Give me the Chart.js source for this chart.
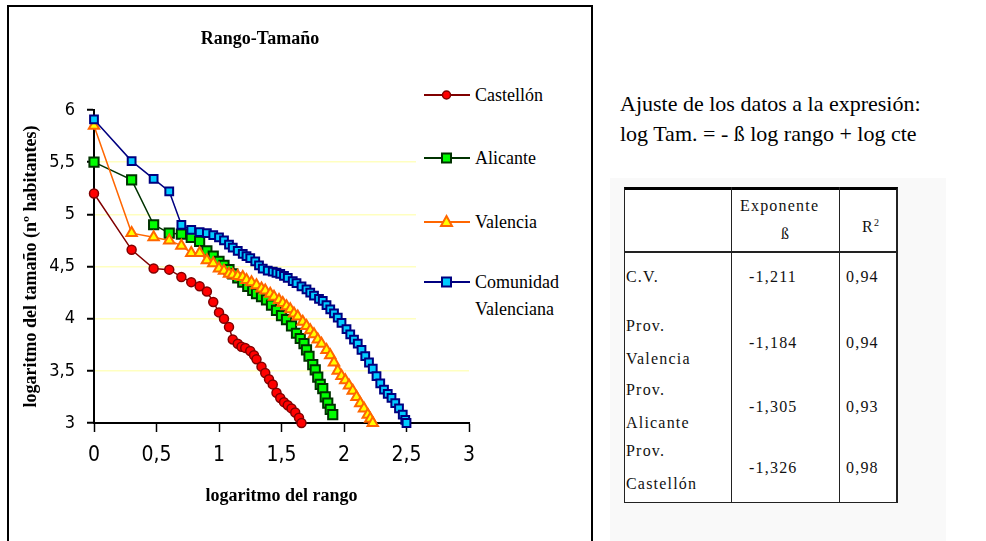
<!DOCTYPE html>
<html>
<head>
<meta charset="utf-8">
<script src="https://cdn.jsdelivr.net/npm/chart.js@4/dist/chart.umd.min.js"></script>
<style>
  body { margin: 0; background: #fff; }
  #page { position: relative; width: 986px; height: 541px; overflow: hidden; background: #fff; }
  #frame { position: absolute; left: 7px; top: 5px; width: 582px; height: 600px; border: 2px solid #000; }
  #chart { position: absolute; left: 0; top: 0; }
  #title { position: absolute; left: 160px; width: 200px; top: 28px; text-align: center;
    font: bold 18px "Liberation Serif", serif; }
  #legend { position: absolute; left: 416px; top: 78px; width: 165px; height: 245px; background: #fff; }
  .item { position: absolute; left: 8px; height: 20px; }
  .item svg { position: absolute; left: 0; top: 0; }
  .item span { position: absolute; left: 51px; top: -3px; white-space: nowrap;
    font-family: "Liberation Serif", serif; font-size: 18px; line-height: 27px; }
  #fit { position: absolute; left: 620px; top: 89px; font: 22px "Liberation Serif", serif; line-height: 30px; white-space: nowrap; }
  #shade { position: absolute; left: 610px; top: 178px; width: 336px; height: 380px; background: #f9f9f9; }
  #tbl { position: absolute; left: 624px; top: 187px; width: 274px; height: 316px; background: #fff;
    border-top: 3px solid #000; border-left: 1px solid #222; border-right: 2px solid #222; border-bottom: 1px solid #222; box-sizing: border-box; }
  .cell { position: absolute; font: 16px "Liberation Serif", serif; letter-spacing: 1.2px; color: #111; white-space: nowrap; line-height: 18px; }
  .vline { position: absolute; top: -3px; width: 1px; height: 316px; background: #222; }
  .hline { position: absolute; left: 0; width: 100%; height: 2px; background: #222; }
</style>
</head>
<body>
<div id="page">
  <div id="frame"></div>
  <canvas id="chart" width="600" height="541"></canvas>
  <div id="title">Rango-Tamaño</div>
  <div id="legend"></div>
  <div id="fit">Ajuste de los datos a la expresión:<br>log Tam. = - ß log rango + log cte</div>
  <div id="shade"></div>
  <div id="tbl"></div>
</div>
<script>
// log rango (x) and log tamaño (y)
let castellonX = [0, 0.301, 0.477, 0.602, 0.699, 0.778, 0.845, 0.903, 0.954, 1.0, 1.04, 1.08, 1.11, 1.15, 1.18, 1.21, 1.25, 1.28, 1.30, 1.34, 1.37, 1.40, 1.43, 1.46, 1.49, 1.52, 1.55, 1.58, 1.61, 1.64, 1.66]
let castellonY = [5.20, 4.66, 4.48, 4.47, 4.40, 4.35, 4.31, 4.26, 4.16, 4.06, 4.00, 3.92, 3.80, 3.76, 3.73, 3.72, 3.69, 3.65, 3.61, 3.54, 3.48, 3.42, 3.37, 3.29, 3.24, 3.20, 3.17, 3.14, 3.10, 3.05, 3.00]

let alicanteX = [0, 0.301, 0.477, 0.602, 0.699, 0.778, 0.845, 0.903, 0.954, 1.0, 1.04, 1.08, 1.11, 1.15, 1.19, 1.23, 1.27, 1.30, 1.34, 1.38, 1.42, 1.46, 1.50, 1.54, 1.58, 1.62, 1.65, 1.68, 1.70, 1.72, 1.75, 1.77, 1.79, 1.81, 1.83, 1.85, 1.87, 1.89, 1.91]
let alicanteY = [5.50, 5.33, 4.90, 4.82, 4.81, 4.78, 4.74, 4.65, 4.60, 4.55, 4.51, 4.47, 4.43, 4.39, 4.35, 4.31, 4.27, 4.24, 4.21, 4.18, 4.13, 4.08, 4.03, 3.99, 3.93, 3.86, 3.81, 3.76, 3.70, 3.64, 3.56, 3.51, 3.44, 3.37, 3.33, 3.25, 3.19, 3.13, 3.08]

let valenciaX = [0, 0.301, 0.477, 0.602, 0.699, 0.778, 0.845, 0.903, 0.954, 1.0, 1.04, 1.08, 1.11, 1.15, 1.19, 1.22, 1.26, 1.30, 1.34, 1.37, 1.41, 1.44, 1.48, 1.51, 1.54, 1.57, 1.60, 1.63, 1.67, 1.70, 1.73, 1.76, 1.79, 1.82, 1.86, 1.89, 1.92, 1.95, 1.98, 2.01, 2.04, 2.07, 2.10, 2.13, 2.16, 2.19, 2.21, 2.23]
let valenciaY = [5.85, 4.82, 4.78, 4.75, 4.70, 4.63, 4.63, 4.56, 4.53, 4.48, 4.46, 4.43, 4.42, 4.41, 4.40, 4.37, 4.35, 4.32, 4.29, 4.27, 4.24, 4.21, 4.18, 4.15, 4.12, 4.09, 4.05, 4.02, 3.97, 3.93, 3.89, 3.85, 3.80, 3.76, 3.70, 3.65, 3.58, 3.50, 3.45, 3.41, 3.36, 3.31, 3.25, 3.19, 3.14, 3.08, 3.04, 3.00]

let comunidadX = [0, 0.301, 0.477, 0.602, 0.699, 0.778, 0.845, 0.903, 0.954, 1.0, 1.04, 1.08, 1.11, 1.15, 1.19, 1.22, 1.25, 1.29, 1.32, 1.35, 1.39, 1.43, 1.46, 1.49, 1.52, 1.55, 1.59, 1.62, 1.66, 1.70, 1.73, 1.76, 1.80, 1.83, 1.86, 1.89, 1.92, 1.95, 1.98, 2.02, 2.05, 2.08, 2.11, 2.14, 2.17, 2.20, 2.23, 2.26, 2.29, 2.32, 2.35, 2.38, 2.41, 2.44, 2.47, 2.49, 2.50]
let comunidadY = [5.91, 5.51, 5.34, 5.22, 4.90, 4.85, 4.83, 4.82, 4.80, 4.78, 4.75, 4.71, 4.68, 4.65, 4.62, 4.60, 4.58, 4.55, 4.51, 4.48, 4.46, 4.45, 4.44, 4.43, 4.41, 4.39, 4.36, 4.34, 4.31, 4.28, 4.25, 4.22, 4.19, 4.17, 4.13, 4.09, 4.05, 4.01, 3.96, 3.90, 3.85, 3.80, 3.76, 3.70, 3.64, 3.58, 3.52, 3.45, 3.38, 3.32, 3.28, 3.24, 3.19, 3.14, 3.08, 3.03, 3.00]

let seriesNames = ['Castellón', 'Alicante', 'Valencia', 'Comunidad Valenciana']

// adjustment table
let tableRows = [['C.V.'], ['Prov.', 'Valencia'], ['Prov.', 'Alicante'], ['Prov.', 'Castellón']]
let exponents = ['-1,211', '-1,184', '-1,305', '-1,326']
let rSquared = ['0,94', '0,94', '0,93', '0,98']

let pts = (xs, ys) => xs.map((x, i) => ({ x: x, y: ys[i] }))
let comma = v => String(v).replace('.', ',')

const styles = [
  { line: '#800000', fill: '#ff0000', shape: 'circle', r: 4.5, bw: 1.5, order: 4 },
  { line: '#003300', fill: '#00ff00', shape: 'rect', r: 6.5, bw: 2, order: 3 },
  { line: '#ff6600', fill: '#ffff00', shape: 'triangle', r: 6, bw: 2, order: 2 },
  { line: '#000080', fill: '#00ccff', shape: 'rect', r: 5.5, bw: 2, order: 1 }
]
const allData = [pts(castellonX, castellonY), pts(alicanteX, alicanteY), pts(valenciaX, valenciaY), pts(comunidadX, comunidadY)]

const datasets = allData.map((d, i) => ({
  label: seriesNames[i],
  data: d,
  showLine: true,
  borderColor: styles[i].line,
  borderWidth: 1.5,
  pointStyle: styles[i].shape,
  pointRadius: styles[i].r,
  pointBackgroundColor: styles[i].fill,
  pointBorderColor: styles[i].shape === 'triangle' ? '#ff6600' : styles[i].line,
  pointBorderWidth: styles[i].bw,
  order: styles[i].order,
  clip: false
}))

const tickFont = { family: '"Liberation Sans Narrow", "DejaVu Sans Condensed", sans-serif', size: 18 }
const titleFont = { family: '"Liberation Serif", serif', size: 18, weight: 'bold' }

new Chart(document.getElementById('chart').getContext('2d'), {
  type: 'scatter',
  data: { datasets: datasets },
  options: {
    responsive: false,
    animation: false,
    devicePixelRatio: 1,
    layout: { padding: { top: 110, right: 131, bottom: 0, left: 0 } },
    plugins: { legend: { display: false }, tooltip: { enabled: false } },
    scales: {
      x: {
        type: 'linear', min: 0, max: 3,
        afterFit: s => { s.height = 118 },
        border: { color: '#000', width: 2 },
        grid: { drawOnChartArea: false, tickColor: '#000', tickLength: 9, tickWidth: 1.5 },
        ticks: { stepSize: 0.5, color: '#000', padding: 11, maxRotation: 0, autoSkip: false,
          font: { family: tickFont.family, size: 21 }, callback: v => comma(v) },
        title: { display: true, text: 'logaritmo del rango', color: '#000', font: titleFont, padding: { top: 0, bottom: 34 } }
      },
      y: {
        type: 'linear', min: 3, max: 6,
        afterFit: s => { s.width = 94 },
        border: { color: '#000', width: 2 },
        grid: {
          color: c => (c.tick && c.tick.value === 6) ? 'rgba(0,0,0,0)' : '#ffffc0',
          lineWidth: 1.5, tickColor: '#000', tickLength: 7, tickWidth: 2
        },
        ticks: { stepSize: 0.5, color: '#000', padding: 12, font: tickFont, callback: v => comma(v) },
        title: { display: true, text: 'logaritmo del tamaño (nº habitantes)', color: '#000', font: titleFont, padding: { top: 21, bottom: 0 } }
      }
    }
  }
})

// legend
let legendTops = [7, 70, 134, 194]
let legendHtml = ''
seriesNames.forEach((name, i) => {
  let s = styles[i]
  let marker = ''
  if (s.shape === 'circle') marker = `<circle cx="22.5" cy="10" r="4" fill="${s.fill}" stroke="${s.line}" stroke-width="1.5"/>`
  else if (s.shape === 'rect') marker = `<rect x="18" y="5.5" width="9" height="9" fill="${s.fill}" stroke="${s.line}" stroke-width="2"/>`
  else marker = `<polygon points="22.5,4 28,14 17,14" fill="${s.fill}" stroke="#ff6600" stroke-width="2"/>`
  let label = name === 'Comunidad Valenciana' ? 'Comunidad<br>Valenciana' : name
  legendHtml += `<div class="item" style="top:${legendTops[i]}px"><svg width="46" height="20">` +
    `<line x1="0" y1="10" x2="46" y2="10" stroke="${s.line}" stroke-width="2"/>${marker}</svg>` +
    `<span>${label}</span></div>`
})
document.getElementById('legend').innerHTML = legendHtml

// table (positions relative to the table box)
let tbl = document.getElementById('tbl')
let html = ''
html += `<div class="vline" style="left:106px"></div><div class="vline" style="left:214px"></div>`
html += `<div class="hline" style="top:61px"></div>`
html += `<div class="cell" style="left:115px;top:7px">Exponente</div>`
html += `<div class="cell" style="left:156px;top:35px">ß</div>`
html += `<div class="cell" style="left:237px;top:24px">R<sup style="font-size:10px">2</sup></div>`
let rowCenters = [87, 153, 217, 278]
tableRows.forEach((lines, i) => {
  let c = rowCenters[i]
  if (lines.length === 1) {
    html += `<div class="cell" style="left:1px;top:${c - 9}px">${lines[0]}</div>`
  } else {
    html += `<div class="cell" style="left:1px;top:${c - 26}px">${lines[0]}</div>`
    html += `<div class="cell" style="left:1px;top:${c + 7}px">${lines[1]}</div>`
  }
  html += `<div class="cell" style="left:124px;top:${c - 9}px">${exponents[i]}</div>`
  html += `<div class="cell" style="left:221px;top:${c - 9}px">${rSquared[i]}</div>`
})
tbl.innerHTML = html
</script>
</body>
</html>
